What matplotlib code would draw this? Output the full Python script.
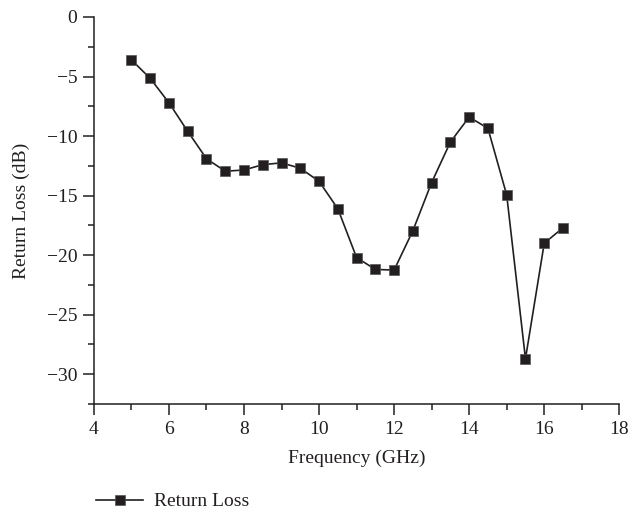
import matplotlib
matplotlib.use("Agg")
import matplotlib.pyplot as plt
from matplotlib.ticker import MultipleLocator

# Return loss values
frequency_ghz = [5.0, 5.5, 6.0, 6.5, 7.0, 7.5, 8.0, 8.5, 9.0, 9.5, 10.0, 10.5,
                 11.0, 11.5, 12.0, 12.5, 13.0, 13.5, 14.0, 14.5, 15.0, 15.5, 16.0, 16.5]
return_loss_db = [-3.6, -5.15, -7.2, -9.6, -11.9, -12.95, -12.85, -12.4, -12.25, -12.7, -13.8, -16.1,
                  -20.2, -21.2, -21.25, -17.95, -13.9, -10.5, -8.4, -9.35, -14.95, -28.7, -19.0, -17.7]

x_ticks = [4, 6, 8, 10, 12, 14, 16, 18]
y_ticks = [0, -5, -10, -15, -20, -25, -30]

plt.rcParams['font.family'] = ['Liberation Serif', 'DejaVu Serif']
ink = '#231f20'

fig = plt.figure(figsize=(6.3, 5.15), dpi=100)
ax = fig.add_axes([0.149, 0.2155, 0.834, 0.7515])

line, = ax.plot(frequency_ghz, return_loss_db, color=ink, linewidth=1.2,
                marker='s', markersize=6.5, markerfacecolor=ink,
                markeredgecolor='#555555', markeredgewidth=0.5, label='Return Loss')

ax.set_xlim(4, 18)
ax.set_ylim(-32.5, 0)
ax.set_xticks(x_ticks)
ax.set_yticks(y_ticks)
ax.set_yticklabels([str(v).replace('-', '\u2212') for v in y_ticks])
ax.xaxis.set_minor_locator(MultipleLocator(1))
ax.yaxis.set_minor_locator(MultipleLocator(2.5))

for side in ['top', 'right']:
    ax.spines[side].set_visible(False)
for side in ['left', 'bottom']:
    ax.spines[side].set_color(ink)
    ax.spines[side].set_linewidth(1.1)

ax.tick_params(which='major', direction='out', length=8, width=1.1, colors=ink,
               labelsize=14, labelcolor=ink, pad=4)
ax.tick_params(which='minor', direction='out', length=4.5, width=1.1, colors=ink)

ax.set_xlabel('Frequency (GHz)', fontsize=14, color=ink, labelpad=9)
ax.set_ylabel('Return Loss (dB)', fontsize=14, color=ink, labelpad=12)

fig.legend(handles=[line], loc='lower left', bbox_to_anchor=(0.125, -0.025),
           frameon=False, fontsize=14, handlelength=2.4, handletextpad=0.55,
           labelcolor=ink)

fig.savefig('out.png', dpi=100)
